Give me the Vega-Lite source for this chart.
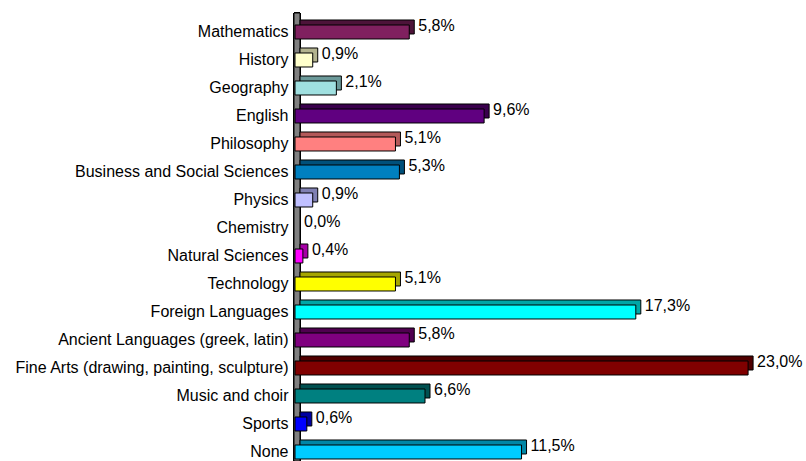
{
  "$schema": "https://vega.github.io/schema/vega-lite/v6.json",
  "autosize": {"type": "none"},
  "width": 511,
  "height": 448,
  "padding": {"left": 295, "top": 13, "right": 0, "bottom": 0},
  "background": "white",
  "config": {
    "view": {"stroke": null},
    "font": "Liberation Sans",
    "locale": {"number": {"decimal": ",", "thousands": ".", "grouping": [3], "currency": ["", "%"]}}
  },
  "data": {"values": [
    {"subject": "Mathematics", "pct": 5.8},
    {"subject": "History", "pct": 0.9},
    {"subject": "Geography", "pct": 2.1},
    {"subject": "English", "pct": 9.6},
    {"subject": "Philosophy", "pct": 5.1},
    {"subject": "Business and Social Sciences", "pct": 5.3},
    {"subject": "Physics", "pct": 0.9},
    {"subject": "Chemistry", "pct": 0.0},
    {"subject": "Natural Sciences", "pct": 0.4},
    {"subject": "Technology", "pct": 5.1},
    {"subject": "Foreign Languages", "pct": 17.3},
    {"subject": "Ancient Languages (greek, latin)", "pct": 5.8},
    {"subject": "Fine Arts (drawing, painting, sculpture)", "pct": 23.0},
    {"subject": "Music and choir", "pct": 6.6},
    {"subject": "Sports", "pct": 0.6},
    {"subject": "None", "pct": 11.5}
  ]},
  "encoding": {
    "y": {
      "field": "subject", "type": "nominal", "sort": null,
      "scale": {
        "domain": ["Mathematics", "History", "Geography", "English", "Philosophy", "Business and Social Sciences", "Physics", "Chemistry", "Natural Sciences", "Technology", "Foreign Languages", "Ancient Languages (greek, latin)", "Fine Arts (drawing, painting, sculpture)", "Music and choir", "Sports", "None"],
        "paddingInner": 0.5, "paddingOuter": 0.25, "align": 0.857
      },
      "axis": {"title": null, "ticks": false, "domain": false, "labelPadding": 7, "labelFontSize": 16, "labelColor": "#000000", "labelFont": "Liberation Sans", "labelLimit": 400}
    }
  },
  "layer": [
    {
      "mark": {"type": "rect", "fill": "#808080", "stroke": "#000000", "strokeWidth": 1, "xOffset": -1, "x2Offset": 5},
      "encoding": {
        "y": null,
        "x": {"datum": 0, "type": "quantitative", "scale": {"domain": [0, 25.94], "nice": false, "zero": true}, "axis": null},
        "x2": {"datum": 0}
      }
    },
    {
      "transform": [{"filter": "datum.pct > 0"}],
      "mark": {"type": "bar", "stroke": "#000000", "strokeWidth": 1, "xOffset": 5, "yOffset": -5},
      "encoding": {
        "x": {"field": "pct", "type": "quantitative", "scale": {"domain": [0, 25.94], "nice": false}, "axis": null},
        "color": {
          "field": "subject", "type": "nominal", "legend": null,
          "scale": {
            "domain": ["Mathematics", "History", "Geography", "English", "Philosophy", "Business and Social Sciences", "Physics", "Chemistry", "Natural Sciences", "Technology", "Foreign Languages", "Ancient Languages (greek, latin)", "Fine Arts (drawing, painting, sculpture)", "Music and choir", "Sports", "None"],
            "range": ["#4d1339", "#b3b38f", "#6b9999", "#3a004d", "#b35959", "#00507a", "#8080b3", "#000050", "#a600a6", "#a6a600", "#00a6a6", "#500050", "#500000", "#005050", "#0000a0", "#0086a6"]
          }
        }
      }
    },
    {
      "transform": [{"filter": "datum.pct > 0"}],
      "mark": {"type": "bar", "stroke": "#000000", "strokeWidth": 1},
      "encoding": {
        "x": {"field": "pct", "type": "quantitative", "scale": {"domain": [0, 25.94], "nice": false}, "axis": null},
        "fill": {
          "field": "subject", "type": "nominal", "legend": null,
          "scale": {
            "domain": ["Mathematics", "History", "Geography", "English", "Philosophy", "Business and Social Sciences", "Physics", "Chemistry", "Natural Sciences", "Technology", "Foreign Languages", "Ancient Languages (greek, latin)", "Fine Arts (drawing, painting, sculpture)", "Music and choir", "Sports", "None"],
            "range": ["#80205f", "#ffffcc", "#a0e0e0", "#600080", "#ff8080", "#0080c0", "#c0c0ff", "#000080", "#ff00ff", "#ffff00", "#00ffff", "#800080", "#800000", "#008080", "#0000ff", "#00ccff"]
          }
        }
      }
    },
    {
      "mark": {"type": "text", "align": "left", "baseline": "middle", "dx": 9, "dy": -6, "fontSize": 16, "font": "Liberation Sans", "color": "#000000"},
      "encoding": {
        "x": {"field": "pct", "type": "quantitative", "scale": {"domain": [0, 25.94], "nice": false}, "axis": null},
        "text": {"field": "pct", "type": "quantitative", "format": "$.1f", "formatType": "number"}
      }
    }
  ],
  "resolve": {"scale": {"color": "independent", "fill": "independent"}}
}
